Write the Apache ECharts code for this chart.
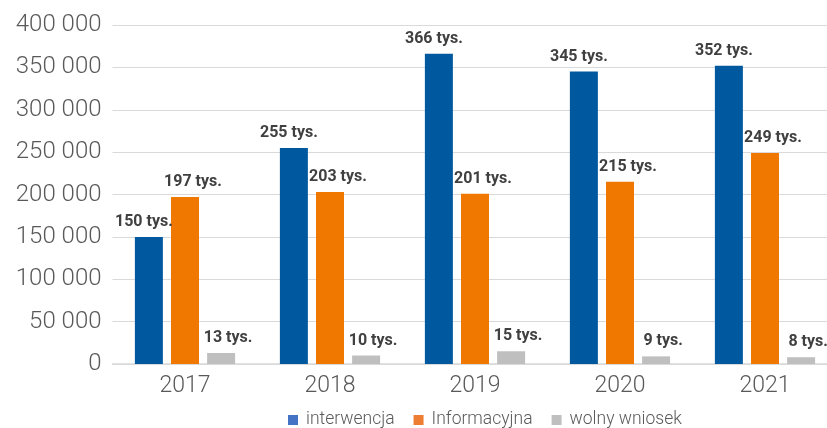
<!DOCTYPE html>
<html><head><meta charset="utf-8">
<script src="https://cdn.jsdelivr.net/npm/echarts@6/dist/echarts.min.js"></script>
<style>html,body{margin:0;padding:0;background:#fff}#c{width:827px;height:428px}</style>
</head><body><div id="c"></div>
<script>
const categories = ['2017','2018','2019','2020','2021'];
const interwencja = [150000, 255000, 366000, 345000, 352000];
const informacyjna = [197000, 203000, 201000, 215000, 249000];
const wolnyWniosek = [13000, 10000, 15000, 9000, 8000];
const seriesNames = ['interwencja','Informacyjna','wolny wniosek'];
const yTicks = [0, 50000, 100000, 150000, 200000, 250000, 300000, 350000, 400000];

const fmtNum = v => String(v).replace(/\B(?=(\d{3})+(?!\d))/g, ' ');
const lbl = dx => ({
  show: true, position: 'top', distance: 7, offset: [dx, 0],
  fontFamily: 'Roboto', fontWeight: 'bold', fontSize: 16, color: '#404040',
  formatter: p => Math.round(p.value/1000) + ' tys.'
});
const chart = echarts.init(document.getElementById('c'));
chart.setOption({
  animation: false,
  textStyle: {fontFamily: 'Roboto'},
  legend: {
    top: 406, left: 283, itemWidth: 10, itemHeight: 10, itemGap: 19,
    icon: 'rect',
    textStyle: {fontFamily: 'Roboto', fontSize: 17.5, color: '#595959', fontWeight: 300, padding: [0,0,0,3]},
    data: [
      {name: seriesNames[0], itemStyle: {color: '#4472c4'}},
      {name: seriesNames[1], itemStyle: {color: '#ed7d31'}},
      {name: seriesNames[2], itemStyle: {color: '#bfbfbf'}}
    ]
  },
  grid: {left: 112.5, width: 725, top: 25, height: 339, containLabel: false, outerBoundsMode: 'none'},
  xAxis: {
    type: 'category', data: categories,
    axisLine: {lineStyle: {color: '#d9d9d9', width: 1.5}},
    axisTick: {show: false},
    axisLabel: {fontFamily: 'Roboto', fontSize: 23, color: '#595959', fontWeight: 300, margin: 11}
  },
  yAxis: {
    type: 'value', min: yTicks[0], max: yTicks[yTicks.length-1], interval: 50000,
    axisLine: {show: false}, axisTick: {show: false},
    splitLine: {lineStyle: {color: '#d9d9d9', width: 1.2}},
    axisLabel: {fontFamily: 'Roboto', fontSize: 24, color: '#595959', fontWeight: 300, margin: 11,
      formatter: v => fmtNum(v)}
  },
  series: [
    {name: seriesNames[0], type: 'bar', data: interwencja, barWidth: 28, barGap: '29%',
     itemStyle: {color: '#00599f'}, label: lbl(-5)},
    {name: seriesNames[1], type: 'bar', data: informacyjna, barWidth: 28, barGap: '29%',
     itemStyle: {color: '#f07800'}, label: lbl(8)},
    {name: seriesNames[2], type: 'bar', data: wolnyWniosek, barWidth: 28, barGap: '29%',
     itemStyle: {color: '#bfbfbf'}, label: lbl(7)}
  ]
});
</script></body></html>
